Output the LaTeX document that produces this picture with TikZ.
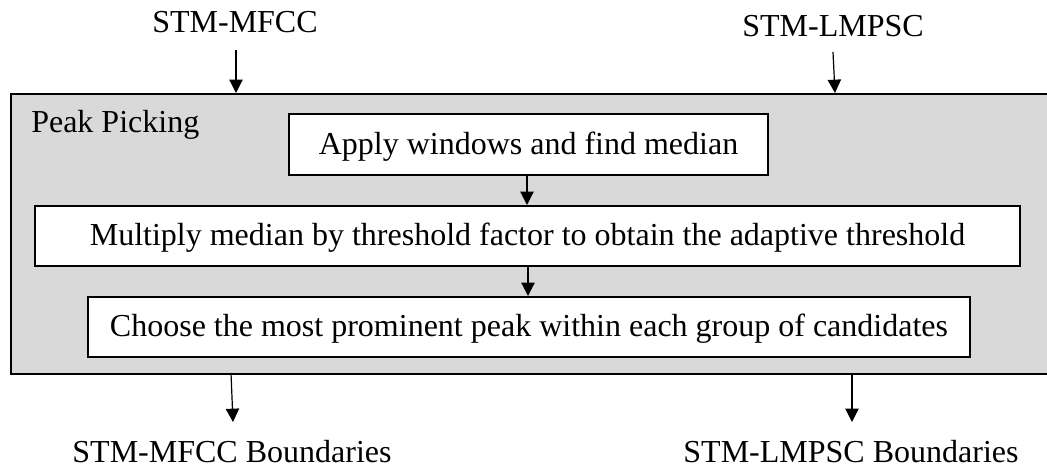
\documentclass[tikz,border=0pt]{standalone}
\usepackage{fontspec}
\setmainfont{Liberation Serif}
\usetikzlibrary{arrows.meta}
\definecolor{panelgray}{RGB}{217,217,217}
\begin{document}
\begin{tikzpicture}[x=0.75pt,y=-0.75pt,
  font=\fontsize{24pt}{28pt}\selectfont,
  stepbox/.style={draw=black,line width=1.5pt,fill=white,inner sep=0pt,
    text height=18pt,text depth=3pt,anchor=north west},
  flow/.style={line width=0.9pt,-{Triangle[width=10pt,length=10pt]}},
  lbl/.style={inner sep=0pt,anchor=base}]
\useasboundingbox (0,0) rectangle (1047,466);
\node[draw=black,line width=1.5pt,fill=panelgray,inner sep=0pt,anchor=north west,
  minimum width=1045*0.75pt,minimum height=280*0.75pt] (outer) at (10,93) {};
\node[lbl,anchor=base west] (pp) at (31,133) {Peak Picking};
\node[stepbox,minimum width=479*0.75pt,minimum height=61*0.75pt] (box1) at (288,113) {Apply windows and find median};
\node[stepbox,minimum width=985*0.75pt,minimum height=60*0.75pt] (box2) at (34,205) {Multiply median by threshold factor to obtain the adaptive threshold};
\node[stepbox,minimum width=882*0.75pt,minimum height=60*0.75pt] (box3) at (87,296) {Choose the most prominent peak within each group of candidates};
\node[lbl] (in1) at (235,33) {STM-MFCC};
\node[lbl] (in2) at (833,37) {STM-LMPSC};
\node[lbl] (out1) at (232,463) {STM-MFCC Boundaries};
\node[lbl] (out2) at (851,463) {STM-LMPSC Boundaries};
\coordinate (s1) at (236,50);
\coordinate (s2) at (833,52);
\coordinate (e2) at (835,93);
\coordinate (s3) at (231,373);
\coordinate (e3) at (233,422);
\coordinate (s4) at (852,373);
\coordinate (e4) at (852,422);
\draw[flow] (s1) -- (s1 |- outer.north);
\draw[flow] (s2) -- (e2);
\draw[flow] (527,0 |- box1.south) -- (527,0 |- box2.north);
\draw[flow] (528,0 |- box2.south) -- (528,0 |- box3.north);
\draw[flow] (s3) -- (e3);
\draw[flow] (s4) -- (e4);
\end{tikzpicture}
\end{document}
